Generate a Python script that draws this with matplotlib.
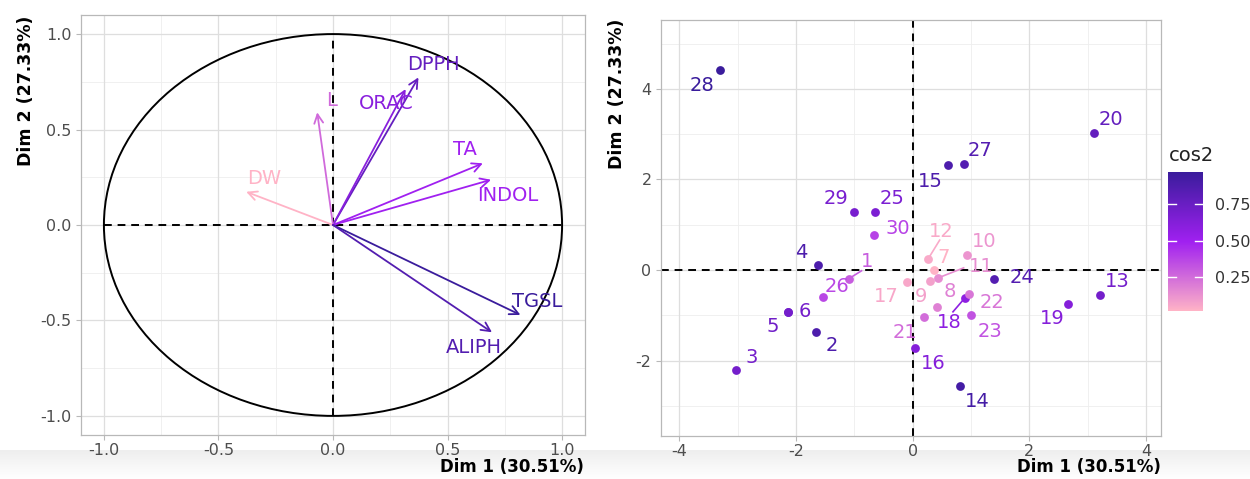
import numpy as np
import matplotlib.pyplot as plt
from matplotlib.colors import LinearSegmentedColormap, Normalize
from matplotlib.patches import Circle
from matplotlib.cm import ScalarMappable

plt.rcParams['font.family'] = ['DejaVu Sans']
plt.rcParams['axes.unicode_minus'] = False

# ---- data ----
# variables (correlation circle)
var_names = ['DPPH', 'ORAC', 'L', 'DW', 'TA', 'INDOL', 'TGSL', 'ALIPH']
var_x = [0.373, 0.317, -0.069, -0.379, 0.654, 0.690, 0.818, 0.694]
var_y = [0.773, 0.712, 0.590, 0.174, 0.323, 0.237, -0.471, -0.562]
var_cos2 = [0.74, 0.61, 0.35, 0.17, 0.53, 0.53, 0.89, 0.80]

# individuals 1..30
ind_names = [str(i) for i in range(1, 31)]
ind_x = [-1.096, -1.65, -3.03, -1.615, -2.14, -2.135, 0.36, 0.422, 0.291, 0.936,
         0.44, 0.262, 3.217, 0.804, 0.598, 0.046, -0.091, 0.896, 2.66, 3.11,
         0.188, 0.965, 1.005, 1.393, -0.64, -1.546, 0.875, -3.30, -1.01, -0.655]
ind_y = [-0.19, -1.37, -2.21, 0.118, -0.93, -0.934, -0.007, -0.81, -0.25, 0.331,
         -0.17, 0.243, -0.544, -2.551, 2.31, -1.715, -0.258, -0.611, -0.757, 3.02,
         -1.03, -0.537, -1.0, -0.19, 1.28, -0.589, 2.35, 4.42, 1.29, 0.765]
ind_cos2 = [0.30, 0.88, 0.70, 0.88, 0.72, 0.70, 0.02, 0.18, 0.08, 0.12,
            0.14, 0.05, 0.70, 0.92, 0.88, 0.62, 0.06, 0.58, 0.62, 0.78,
            0.25, 0.22, 0.33, 0.85, 0.66, 0.37, 0.85, 0.97, 0.68, 0.38]

# ---- layout: where labels sit (repelled) ----
var_lab = [(0.44, 0.84), (0.234, 0.634), (-0.006, 0.65), (-0.30, 0.244),
           (0.577, 0.393), (0.764, 0.157), (0.89, -0.40), (0.615, -0.644)]
ind_lab = [(-0.78, 0.20), (-1.38, -1.67), (-2.76, -1.93), (-1.906, 0.39), (-2.40, -1.25),
           (-1.85, -0.92), (0.536, 0.28), (0.634, -0.479), (0.148, -0.59), (1.233, 0.625),
           (1.176, 0.07), (0.49, 0.85), (3.51, -0.25), (1.10, -2.89), (0.31, 1.96),
           (0.36, -2.06), (-0.45, -0.59), (0.622, -1.16), (2.386, -1.067), (3.40, 3.32),
           (-0.137, -1.38), (1.353, -0.72), (1.318, -1.347), (1.872, -0.16), (-0.35, 1.58),
           (-1.296, -0.353), (1.16, 2.65), (-3.61, 4.07), (-1.31, 1.58), (-0.25, 0.92)]
# connector segments end (label index -> end point)
ind_seg = {0: (-0.878, -0.015), 10: (0.873, 0.05), 11: (0.462, 0.662), 17: (0.69, -0.92)}

cmap = LinearSegmentedColormap.from_list('cos2', ['#FFB3C6', '#A020F0', '#3A1C9C'])

fig = plt.figure(figsize=(12.5, 4.79), dpi=100)

# light grey band at the bottom of the screenshot
bg = fig.add_axes([0, 0, 1, 0.06], zorder=-5)
bg.imshow(np.linspace(1, 0, 50).reshape(-1, 1), cmap=LinearSegmentedColormap.from_list('b', ['#ffffff', '#eeeeee']),
          aspect='auto', extent=[0, 1, 0, 1])
bg.axis('off')


def style_axes(ax, xmaj, xmin, ymaj, ymin):
    ax.set_xticks(xmaj)
    ax.set_yticks(ymaj)
    for v in xmin:
        ax.axvline(v, color='#EEEEEE', lw=0.6, zorder=0)
    for v in ymin:
        ax.axhline(v, color='#EEEEEE', lw=0.6, zorder=0)
    for v in xmaj:
        ax.axvline(v, color='#DEDEDE', lw=0.9, zorder=0)
    for v in ymaj:
        ax.axhline(v, color='#DEDEDE', lw=0.9, zorder=0)
    for s in ax.spines.values():
        s.set_color('#B8B8B8')
        s.set_linewidth(0.9)
    ax.tick_params(colors='#B8B8B8', labelcolor='#4D4D4D', labelsize=11.5, length=3.5, width=0.8)
    ax.tick_params(axis='x', pad=2)


# ---- left: correlation circle ----
ax1 = fig.add_axes([0.0648, 0.0919, 0.4032, 0.8768])
ax1.set_xlim(-1.1, 1.1)
ax1.set_ylim(-1.1, 1.1)
style_axes(ax1, [-1, -0.5, 0, 0.5, 1], [-0.75, -0.25, 0.25, 0.75],
           [-1, -0.5, 0, 0.5, 1], [-0.75, -0.25, 0.25, 0.75])
ax1.set_xticklabels(['-1.0', '-0.5', '0.0', '0.5', '1.0'])
ax1.set_yticklabels(['-1.0', '-0.5', '0.0', '0.5', '1.0'])
ax1.add_patch(Circle((0, 0), 1, fill=False, color='black', lw=1.4, zorder=2))
ax1.plot([-1, 1], [0, 0], color='black', ls=(0, (4, 3)), lw=1.4, zorder=2)
ax1.plot([0, 0], [-1, 1], color='black', ls=(0, (4, 3)), lw=1.4, zorder=2)

vnorm = Normalize(min(var_cos2), max(var_cos2))
for name, x, y, c, (lx, ly) in zip(var_names, var_x, var_y, var_cos2, var_lab):
    col = cmap(vnorm(c))
    ax1.annotate('', xy=(x, y), xytext=(0, 0),
                 arrowprops=dict(arrowstyle='->', color=col, lw=1.3, mutation_scale=16,
                                 shrinkA=0, shrinkB=0), zorder=3)
    ax1.text(lx, ly, name, color=col, fontsize=14, ha='center', va='center', zorder=4)

# ---- right: individuals ----
ax2 = fig.add_axes([0.529, 0.0898, 0.4, 0.8685])
ax2.set_xlim(-4.31, 4.26)
ax2.set_ylim(-3.66, 5.52)
style_axes(ax2, [-4, -2, 0, 2, 4], [-3, -1, 1, 3],
           [-2, 0, 2, 4], [-3, -1, 1, 3, 5])
ax2.axhline(0, color='black', ls=(0, (4, 3)), lw=1.4, zorder=2)
ax2.axvline(0, color='black', ls=(0, (4, 3)), lw=1.4, zorder=2)

inorm = Normalize(min(ind_cos2), max(ind_cos2))
for i, (name, x, y, c) in enumerate(zip(ind_names, ind_x, ind_y, ind_cos2)):
    col = cmap(inorm(c))
    lx, ly = ind_lab[i]
    if i in ind_seg:
        ex, ey = ind_seg[i]
        ax2.plot([x, ex], [y, ey], color=col, lw=1.2, zorder=3)
    ax2.scatter([x], [y], s=40, color=col, zorder=4, linewidths=0)
    ax2.text(lx, ly, name, color=col, fontsize=14, ha='center', va='center', zorder=5)

# colour bar legend
cax = fig.add_axes([0.9344, 0.3507, 0.028, 0.290])
sm = ScalarMappable(norm=inorm, cmap=cmap)
cb = fig.colorbar(sm, cax=cax, ticks=[0.25, 0.5, 0.75])
cb.outline.set_visible(False)
cb.ax.set_yticklabels(['0.25', '0.50', '0.75'])
cb.ax.tick_params(length=0, labelsize=11.5, labelcolor='#333333', pad=9)
for v in [0.25, 0.5, 0.75]:
    cax.plot([0, 0.22], [v, v], color='white', lw=1, transform=cax.get_yaxis_transform())
    cax.plot([0.78, 1], [v, v], color='white', lw=1, transform=cax.get_yaxis_transform())
fig.text(0.935, 0.676, 'cos2', fontsize=14, ha='left', va='center', color='#222222')

# axis titles, pushed to the ends like the original
fig.text(0.4675, 0.006, 'Dim 1 (30.51%)', fontsize=12, fontweight='bold', ha='right', va='bottom')
fig.text(0.929, 0.006, 'Dim 1 (30.51%)', fontsize=12, fontweight='bold', ha='right', va='bottom')
fig.text(0.021, 0.967, 'Dim 2 (27.33%)', fontsize=12.5, fontweight='bold', rotation=90, ha='center', va='top')
fig.text(0.494, 0.962, 'Dim 2 (27.33%)', fontsize=12.5, fontweight='bold', rotation=90, ha='center', va='top')

fig.savefig('out.png', dpi=100)
